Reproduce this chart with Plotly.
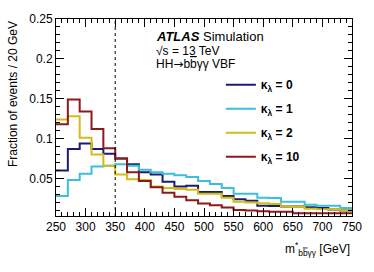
import plotly.graph_objects as go

# ---- data ----
bin_edges = [250 + 20 * i for i in range(26)]  # 250..750 GeV, 20 GeV bins
labels = ["κ<sub>λ</sub> = 0", "κ<sub>λ</sub> = 1", "κ<sub>λ</sub> = 2", "κ<sub>λ</sub> = 10"]
kl0 = [0.060, 0.087, 0.094, 0.087, 0.081, 0.075, 0.068, 0.058, 0.055, 0.046,
       0.040, 0.041, 0.033, 0.033, 0.028, 0.024, 0.022, 0.016, 0.0155, 0.015,
       0.015, 0.014, 0.013, 0.011, 0.010]
kl1 = [0.028, 0.048, 0.056, 0.065, 0.066, 0.068, 0.066, 0.061, 0.058, 0.056,
       0.054, 0.052, 0.047, 0.043, 0.038, 0.031, 0.031, 0.026, 0.0255, 0.021,
       0.021, 0.017, 0.016, 0.016, 0.013]
kl2 = [0.124, 0.128, 0.101, 0.080, 0.066, 0.055, 0.049, 0.048, 0.040, 0.038,
       0.037, 0.036, 0.031, 0.031, 0.026, 0.021, 0.020, 0.019, 0.018, 0.0148,
       0.0145, 0.012, 0.0115, 0.0115, 0.010]
kl10 = [0.118, 0.149, 0.134, 0.112, 0.088, 0.075, 0.058, 0.047, 0.039, 0.032,
        0.027, 0.0227, 0.0186, 0.0166, 0.0137, 0.0105, 0.010, 0.009, 0.0084, 0.0084,
        0.0064, 0.0064, 0.0065, 0.0065, 0.0065]
series = [kl0, kl1, kl2, kl10]
colors = ["#1c1c6e", "#3dbfdc", "#d2bd14", "#8c1a1a"]
cut_value = 350
x_ticks = [250, 300, 350, 400, 450, 500, 550, 600, 650, 700, 750]
y_ticks = [0.05, 0.1, 0.15, 0.2, 0.25]

FONT = "Liberation Sans, Arial, Helvetica, sans-serif"
BBAR = 'b<span style="text-decoration:overline">b</span>'

fig = go.Figure()
for lab, vals, col in zip(labels, series, colors):
    fig.add_trace(go.Scatter(
        x=bin_edges, y=vals + [vals[-1]], mode="lines",
        line=dict(color=col, width=2, shape="hv"),
        name="<b>" + lab + "</b>", legendgroup=lab,
    ))

fig.add_shape(type="line", xref="x", yref="paper", x0=cut_value, x1=cut_value,
              y0=0, y1=1, line=dict(color="black", width=1, dash="dot"))

axis_common = dict(
    showline=True, linecolor="black", linewidth=1, mirror="allticks",
    ticks="inside", ticklen=8, tickcolor="black", showgrid=False, zeroline=False,
    tickfont=dict(family=FONT, size=12, color="black"),
)
fig.update_xaxes(range=[250, 750], tickvals=x_ticks, ticktext=[str(v) for v in x_ticks],
                 minor=dict(ticks="inside", dtick=10, ticklen=4, tickcolor="black"),
                 **axis_common)
fig.update_yaxes(range=[0.003, 0.25], tickvals=y_ticks,
                 ticktext=["0.05", "0.1", "0.15", "0.2", "0.25"],
                 minor=dict(ticks="inside", dtick=0.01, tick0=0, ticklen=4, tickcolor="black"),
                 **axis_common)

ann = []
ann.append(dict(xref="paper", yref="paper", x=0.33, y=0.91, xanchor="left", yanchor="middle",
                text="<b><i>ATLAS</i></b> Simulation", showarrow=False,
                font=dict(family=FONT, size=13, color="black")))
ann.append(dict(xref="paper", yref="paper", x=0.33, y=0.836, xanchor="left", yanchor="middle",
                text="√s = 13 TeV", showarrow=False,
                font=dict(family=FONT, size=12, color="black")))
ann.append(dict(xref="paper", yref="paper", x=0.33, y=0.772, xanchor="left", yanchor="middle",
                text="HH" + '<span style="font-family:DejaVu Sans">→</span>' + BBAR + "γγ VBF",
                showarrow=False,
                font=dict(family=FONT, size=12, color="black")))
ann.append(dict(xref="paper", yref="paper", x=1.0, y=-0.11, xanchor="right", yanchor="top",
                text="m<sup>*</sup><sub>" + BBAR + "γγ</sub> [GeV]", showarrow=False,
                font=dict(family=FONT, size=12, color="black")))
ann.append(dict(xref="paper", yref="paper", x=-0.145, y=1.0, xanchor="center", yanchor="top",
                text="Fraction of events / 20 GeV", textangle=-90, showarrow=False,
                font=dict(family=FONT, size=12, color="black")))

fig.update_layout(
    width=374, height=272,
    margin=dict(l=56, r=15, t=15, b=56),
    plot_bgcolor="white", paper_bgcolor="white",
    annotations=ann,
    showlegend=True,
    legend=dict(x=0.557, y=0.74, xanchor="left", yanchor="top",
                bgcolor="rgba(0,0,0,0)", tracegroupgap=5,
                font=dict(family=FONT, size=12, color="black")),
)

fig.write_html("out.html", config={"displayModeBar": False},
               post_script="document.body.style.margin='0';document.body.style.overflow='hidden';")
